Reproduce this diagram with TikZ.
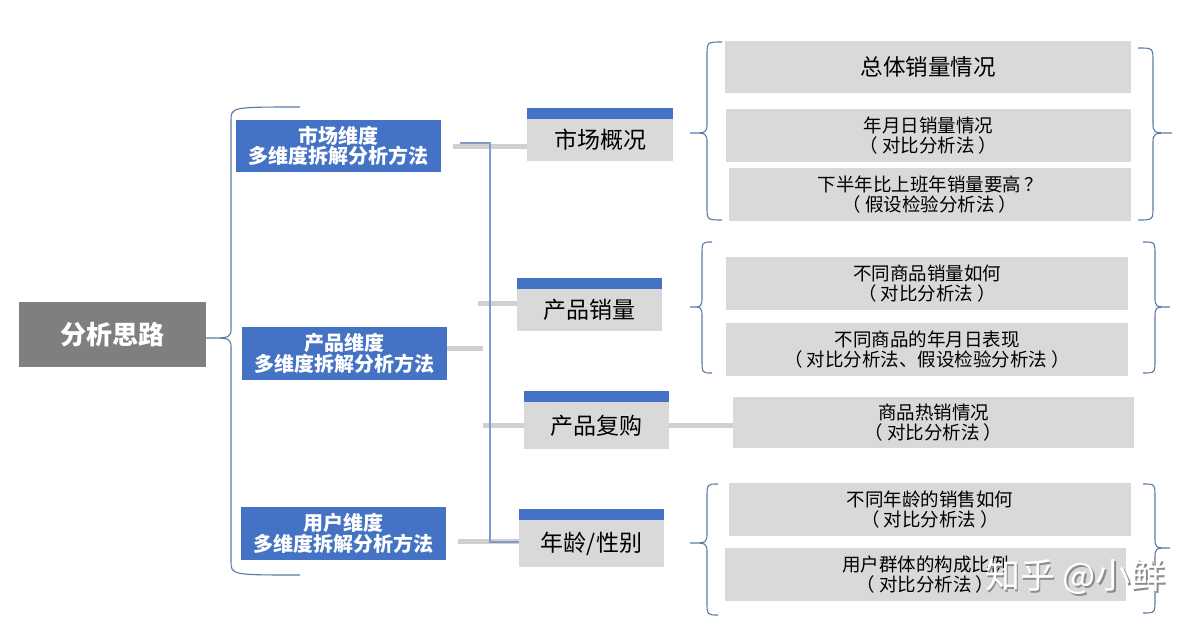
\documentclass[tikz,border=0pt]{standalone}
\usepackage{fontspec}
\setmainfont{Noto Sans CJK SC}
\definecolor{rootgray}{HTML}{7F7F7F}
\definecolor{bluebox}{HTML}{4472C4}
\definecolor{leafgray}{HTML}{D9D9D9}
\definecolor{stubgray}{HTML}{D0D0D0}
\definecolor{bracec}{HTML}{5B7BA6}
\definecolor{linkblue}{HTML}{7F9CC8}
\newcommand\mybrace[6]{%
  \draw[bracestyle] (#1,#4) .. controls (#2,#4) and (#2,#4) .. (#2,#4+14) -- (#2,#5-11)
    .. controls (#2,#5) and (#2,#5) .. (#3,#5)
    .. controls (#2,#5) and (#2,#5) .. (#2,#5+11) -- (#2,#6-14)
    .. controls (#2,#6) and (#2,#6) .. (#1,#6);}
\newcommand\lp{（\hspace{4pt}}
\newcommand\rp{\hspace{4pt}）}
\begin{document}
\begin{tikzpicture}[x=1pt,y=-1pt,
  rootbox/.style={fill=rootgray, text=white, inner sep=0pt, font=\bfseries\fontsize{26}{28}\selectfont},
  dimbox/.style={fill=bluebox, text=white, inner sep=0pt, align=center, minimum width=205pt, minimum height=53pt, font=\bfseries\fontsize{20}{19.5}\selectfont},
  midbox/.style={fill=leafgray, text=black, inner sep=0pt, minimum width=145pt, font=\fontsize{23}{24}\selectfont},
  leafbox/.style={fill=leafgray, text=black, inner sep=0pt, align=center, minimum height=53pt, font=\fontsize{18.5}{20.5}\selectfont},
  bar/.style={fill=bluebox},
  stub/.style={draw=stubgray, line width=5pt},
  blueline/.style={draw=linkblue, line width=1.4pt},
  bracestyle/.style={draw=bracec, line width=1.1pt},
  wmark/.style={font=\fontsize{35}{36}\selectfont, inner sep=0pt}
]
\useasboundingbox[fill=white] (0,0) rectangle (1199,627);

% root
\node[rootbox, minimum width=187pt, minimum height=65pt] (root) at (112.5,334.5) {分析思路};

% dimension boxes
\node[dimbox, minimum height=52pt] (b1) at (338.5,146) {市场维度\\多维度拆解分析方法};
\node[dimbox] (b2) at (344.5,353.5) {产品维度\\多维度拆解分析方法};
\node[dimbox] (b3) at (343.5,533.5) {用户维度\\多维度拆解分析方法};

% big brace
\mybrace{300}{231}{206}{107}{338}{575}

% mid boxes
\node[midbox, minimum width=146pt, minimum height=42pt] (m1) at (600,140) {市场概况};
\node[midbox, minimum height=42pt] (m2) at (589.5,310) {产品销量};
\node[midbox, minimum height=47pt] (m3) at (596.5,425.5) {产品复购};
\node[midbox, minimum height=47pt] (m4) at (591.5,543.5) {年龄/性别};
\foreach \m in {m1,m2,m3,m4}{\fill[bar] (\m.north west) rectangle ([yshift=10.5pt]\m.north east);}

% connectors
\draw[stub] ([xshift=12pt]b1.east) -- (b1.east -| m1.west);
\draw[stub] ([yshift=5.5pt]b2.east) -- ++(36,0);
\draw[stub] ([yshift=7pt]m2.west) -- ++(-39,0);
\draw[stub] (m3.west) -- ++(-41,0);
\draw[stub] ([yshift=-7.5pt,xshift=12pt]b3.east) -- ([yshift=-7.5pt]b3.east -| m4.west);
\coordinate (bl) at (460,143);
\coordinate (bj) at (490,143);
\draw[blueline] (bl) -- (bj) |- ([yshift=1.5pt]m4.west);

% leaves
\node[leafbox, minimum width=406pt, minimum height=52pt, font=\fontsize{22.5}{24}\selectfont] (t1) at (928,67) {总体销量情况};
\node[leafbox, minimum width=405pt] (t2) at (928.5,135.5) {年月日销量情况\\\lp 对比分析法\rp};
\node[leafbox, minimum width=402pt] (t3) at (930,194.5) {下半年比上班年销量要高\hspace{3pt}？\\\lp 假设检验分析法\rp};
\node[leafbox, minimum width=402pt] (p1) at (927,283.5) {不同商品销量如何\\\lp 对比分析法\rp};
\node[leafbox, minimum width=402pt] (p2) at (927,349.5) {不同商品的年月日表现\\\lp 对比分析法、假设检验分析法\rp};
\node[leafbox, minimum width=401pt, minimum height=51pt] (r1) at (933.5,422.5) {商品热销情况\\\lp 对比分析法\rp};
\node[leafbox, minimum width=402pt] (u1) at (930,509.5) {不同年龄的销售如何\\\lp 对比分析法\rp};
\node[leafbox, minimum width=401pt] (u2) at (925.5,574.5) {用户群体的构成比例\\\lp 对比分析法\rp};

\draw[stub] (m3.east) -- (m3.east -| r1.west);

% braces
\mybrace{722}{707}{690}{42}{133}{220}
\mybrace{1138}{1153}{1172}{48}{133}{220}
\mybrace{712}{702}{690}{242}{307}{373}
\mybrace{1143}{1155}{1170}{242}{307}{373}
\mybrace{718}{707}{690}{484}{543}{615}
\mybrace{1143}{1155}{1170}{484}{548}{613}

% watermark
\node[wmark, text=black!45] (wms) at (1077,578.5) {知乎 @小鲜};
\node[wmark, text=white] (wm) at (1075.5,577) {知乎 @小鲜};
\end{tikzpicture}
\end{document}
